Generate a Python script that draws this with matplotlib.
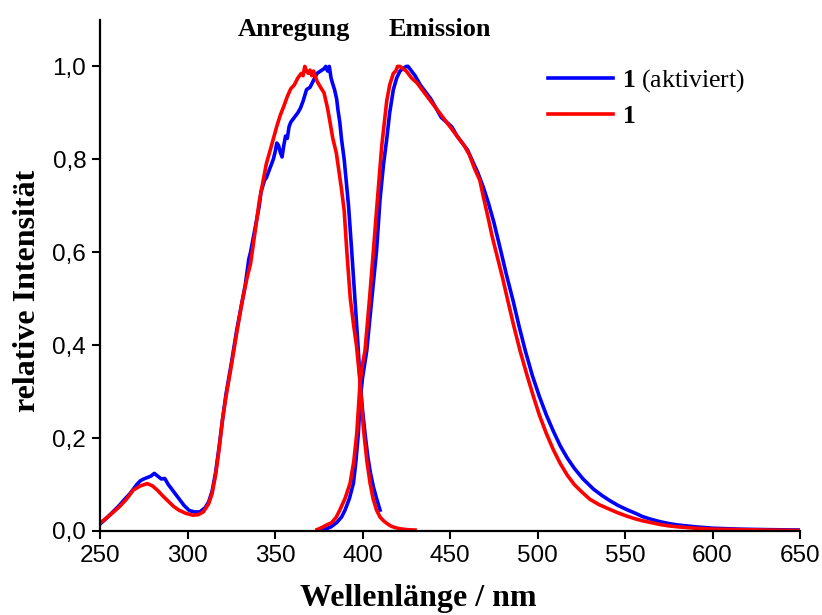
import numpy as np
import matplotlib
matplotlib.use("Agg")
import matplotlib.pyplot as plt
from matplotlib.ticker import FuncFormatter

# Anregung (excitation) spectra
ex_blue_x = [250, 253, 257, 261, 264, 267, 269, 271, 273, 275, 277, 279, 281, 283, 285, 287, 289, 292, 295, 298,
             301, 304, 307, 310, 312, 314, 316, 318, 320, 322, 325, 328, 331, 333, 335, 336, 338, 339, 341, 342,
             344, 345, 347, 349, 350, 351, 352, 353, 354, 355, 356, 357, 358, 359, 361, 363, 364.5, 366, 368, 370,
             372, 374, 376, 378, 379, 380, 381, 382, 383, 384, 385.2, 386, 387, 388, 389.5, 391, 392, 393.8, 395.7, 397.6,
             398.6, 400, 401.4, 403, 404.5, 406.2, 408, 410]
ex_blue_y = [0.015, 0.025, 0.04, 0.055, 0.068, 0.08, 0.09, 0.1, 0.108, 0.112, 0.115, 0.118, 0.124, 0.118, 0.112, 0.113, 0.1, 0.085, 0.07, 0.055,
             0.044, 0.041, 0.041, 0.05, 0.062, 0.085, 0.125, 0.18, 0.24, 0.295, 0.36, 0.43, 0.49, 0.53, 0.585, 0.6, 0.64, 0.66, 0.70, 0.73,
             0.755, 0.76, 0.78, 0.80, 0.815, 0.835, 0.83, 0.815, 0.805, 0.83, 0.85, 0.845, 0.87, 0.88, 0.89, 0.90, 0.91, 0.925, 0.95, 0.955,
             0.97, 0.985, 0.99, 0.995, 1.0, 0.99, 1.0, 0.975, 0.962, 0.95, 0.93, 0.905, 0.88, 0.843, 0.80, 0.74, 0.70, 0.603, 0.496, 0.388,
             0.32, 0.26, 0.21, 0.16, 0.125, 0.095, 0.07, 0.045]

ex_red_x = [250, 255, 261, 265, 269, 273, 277, 280, 283, 286, 289, 292, 295, 299, 303, 306, 309, 312, 314, 316,
            318, 320, 322, 325, 328, 331, 334, 336, 339, 341, 343, 345, 348, 351, 353, 355, 357, 359, 361, 363,
            365, 366, 367, 368, 369, 370, 371, 372, 374, 376, 378, 380, 381.5, 383, 385, 386.5, 388, 389.5, 391, 393,
            395, 396.5, 398.6, 400.5, 402.5, 404.3, 406, 408, 410, 412, 414, 416, 418, 421, 425, 430]
ex_red_y = [0.017, 0.032, 0.052, 0.068, 0.088, 0.097, 0.102, 0.097, 0.087, 0.075, 0.064, 0.053, 0.045, 0.038, 0.034, 0.035, 0.041, 0.058, 0.08, 0.12,
            0.175, 0.24, 0.29, 0.355, 0.424, 0.49, 0.545, 0.575, 0.655, 0.71, 0.75, 0.79, 0.83, 0.871, 0.895, 0.914, 0.935, 0.952, 0.96, 0.975,
            0.985, 0.98, 1.0, 0.99, 0.985, 0.992, 0.98, 0.99, 0.968, 0.955, 0.943, 0.91, 0.878, 0.845, 0.814, 0.775, 0.735, 0.69, 0.603, 0.5,
            0.44, 0.40, 0.32, 0.22, 0.15, 0.103, 0.07, 0.045, 0.03, 0.022, 0.016, 0.011, 0.008, 0.005, 0.003, 0.002]

# Emission spectra
em_blue_x = [376, 379.5, 382, 385.2, 388, 390, 392.5, 394.8, 396.2, 397.6, 398.6, 400, 402.4, 405.2, 408, 410, 412, 413.8, 415.5, 417.6,
             419.5, 421.4, 423, 425, 426, 428, 430, 433, 436, 439, 442, 445, 448, 451, 454, 457, 460, 463, 466, 469,
             472, 475, 479, 482, 486, 489.5, 493, 497, 501, 505, 509, 513, 517, 521, 526, 532, 537, 541, 546, 551,
             556, 560, 565, 570, 575, 580, 590, 600, 615, 630, 650]
em_blue_y = [0.002, 0.005, 0.009, 0.018, 0.03, 0.045, 0.07, 0.103, 0.15, 0.21, 0.28, 0.33, 0.388, 0.496, 0.603, 0.714, 0.79, 0.843, 0.90, 0.95,
             0.975, 0.99, 0.995, 1.0, 1.0, 0.99, 0.98, 0.96, 0.945, 0.93, 0.91, 0.89, 0.88, 0.87, 0.85, 0.835, 0.82, 0.795, 0.77, 0.74,
             0.705, 0.665, 0.603, 0.555, 0.496, 0.44, 0.388, 0.335, 0.29, 0.25, 0.215, 0.183, 0.157, 0.135, 0.112, 0.09, 0.076, 0.066, 0.055, 0.046,
             0.038, 0.031, 0.025, 0.02, 0.016, 0.013, 0.009, 0.006, 0.004, 0.003, 0.002]

em_red_x = [374, 376, 378, 380, 382.4, 385, 387, 390, 392.9, 395, 396.7, 398.6, 400, 401.4, 403.9, 406.2, 408, 409.5, 411, 413.8,
            415.5, 417.6, 419, 420, 421.4, 423, 425, 428, 431, 434, 437, 440, 443, 446, 449, 452, 455, 458, 461, 464,
            467, 469, 472, 474, 477, 480, 483, 486.5, 490, 494, 497.6, 501, 505, 509, 513, 517, 521, 525, 530, 535,
            541, 546, 551, 556, 560, 565, 570, 575, 580, 590, 600, 615, 630, 650]
em_red_y = [0.003, 0.006, 0.01, 0.014, 0.018, 0.03, 0.045, 0.07, 0.103, 0.15, 0.21, 0.32, 0.36, 0.388, 0.496, 0.603, 0.69, 0.76, 0.83, 0.925,
            0.96, 0.985, 0.99, 1.0, 1.0, 0.995, 0.99, 0.975, 0.965, 0.95, 0.935, 0.92, 0.905, 0.89, 0.875, 0.86, 0.845, 0.83, 0.81, 0.78,
            0.755, 0.72, 0.67, 0.635, 0.59, 0.545, 0.496, 0.44, 0.388, 0.335, 0.29, 0.25, 0.21, 0.175, 0.145, 0.12, 0.10, 0.085, 0.068, 0.057,
            0.047, 0.039, 0.032, 0.026, 0.022, 0.018, 0.014, 0.011, 0.009, 0.006, 0.004, 0.003, 0.002, 0.001]

xticks = [250, 300, 350, 400, 450, 500, 550, 600, 650]
yticks = [0.0, 0.2, 0.4, 0.6, 0.8, 1.0]

plt.rcParams['mathtext.fontset'] = 'custom'
plt.rcParams['mathtext.rm'] = 'Liberation Serif'
plt.rcParams['mathtext.bf'] = 'Liberation Serif:bold'

fig = plt.figure(figsize=(8.22, 6.15), dpi=100)
ax = fig.add_axes([0.1217, 0.1366, 0.8516, 0.831])

lw = 2.6
ax.plot(ex_blue_x, ex_blue_y, color='#0000ff', lw=lw, label=r'$\mathbf{1}$ (aktiviert)')
ax.plot(em_blue_x, em_blue_y, color='#0000ff', lw=lw)
ax.plot(ex_red_x, ex_red_y, color='#ff0000', lw=lw, label=r'$\mathbf{1}$')
ax.plot(em_red_x, em_red_y, color='#ff0000', lw=lw)

ax.set_xlim(250, 650)
ax.set_ylim(0, 1.1)
ax.set_xticks(xticks)
ax.set_yticks(yticks)
ax.yaxis.set_major_formatter(FuncFormatter(lambda v, p: f"{v:.1f}".replace('.', ',')))
for s in ['top', 'right']:
    ax.spines[s].set_visible(False)
for s in ['left', 'bottom']:
    ax.spines[s].set_linewidth(1.6)
ax.tick_params(direction='out', length=6, width=1.5, labelsize=17.5, pad=4)
for lab in ax.get_xticklabels() + ax.get_yticklabels():
    lab.set_fontfamily('Liberation Sans')

ax.set_xlabel('Wellenlänge / nm', fontfamily='Liberation Serif', fontweight='bold', fontsize=23)
ax.set_ylabel('relative Intensität', fontfamily='Liberation Serif', fontweight='bold', fontsize=23)
ax.xaxis.set_label_coords(0.454, -0.104)
ax.yaxis.set_label_coords(-0.083, 0.47)

ax.text(361, 1.08, 'Anregung', fontfamily='Liberation Serif', fontweight='bold', fontsize=19,
        ha='center', va='center', clip_on=False)
ax.text(444, 1.08, 'Emission', fontfamily='Liberation Serif', fontweight='bold', fontsize=19,
        ha='center', va='center', clip_on=False)

leg = fig.legend(loc='upper left', bbox_to_anchor=(0.667, 0.890), frameon=False,
                 prop={'family': 'Liberation Serif', 'size': 18.5}, handlelength=2.5,
                 handletextpad=0.35, labelspacing=0.4, borderpad=0, borderaxespad=0)

fig.savefig('out.png', dpi=100)
